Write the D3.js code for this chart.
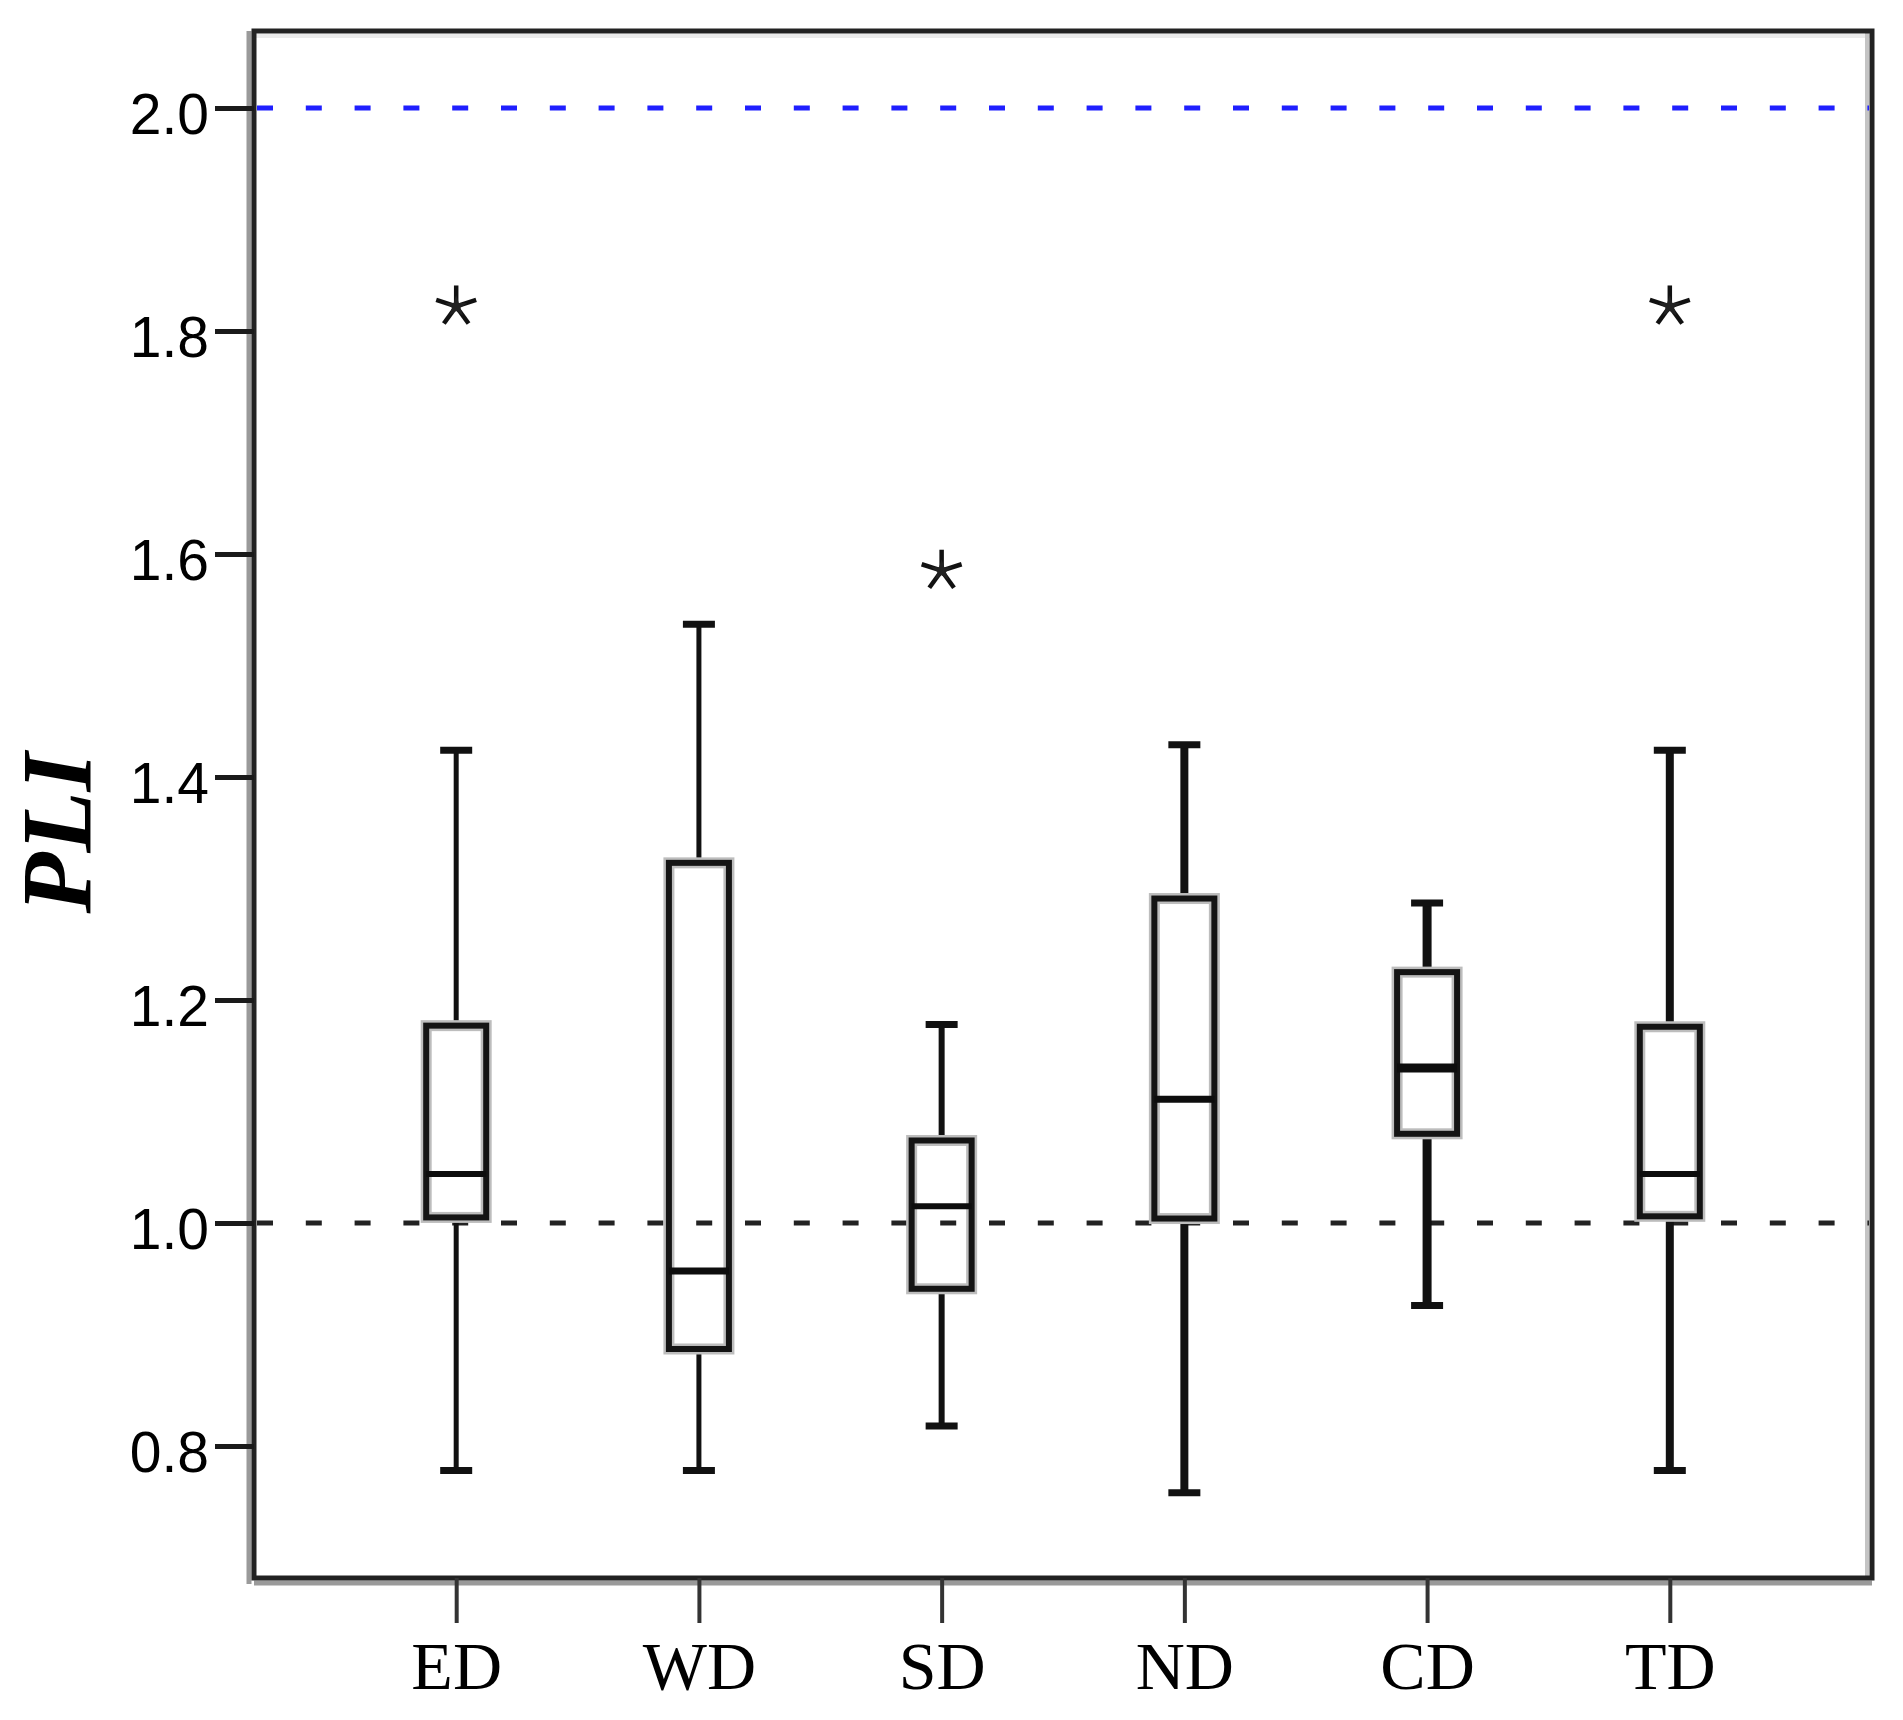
<!DOCTYPE html>
<html>
<head>
<meta charset="utf-8">
<script src="https://cdn.jsdelivr.net/npm/d3@7"></script>
<style>
  body { margin: 0; background: #fff; }
</style>
</head>
<body>
<div id="vis"></div>
<script>
// data
const groups = ["ED", "WD", "SD", "ND", "CD", "TD"];
const whiskerLow  = [0.778, 0.778, 0.818, 0.758, 0.926, 0.778];
const q1          = [1.005, 0.887, 0.941, 1.004, 1.080, 1.006];
const medians     = [1.044, 0.957, 1.015, 1.111, 1.139, 1.044];
const q3          = [1.177, 1.323, 1.074, 1.291, 1.225, 1.176];
const whiskerHigh = [1.424, 1.537, 1.178, 1.429, 1.287, 1.424];

const outlierGroups = ["ED", "SD", "TD"];
const outlierValues = [1.822, 1.585, 1.822];

const yTicks = [0.8, 1.0, 1.2, 1.4, 1.6, 1.8, 2.0];
const refValues = [1.0, 2.0];
const refColors = ["#222", "#1f1fff"];

const width = 1903;
const height = 1720;
const pLeft = 254, pRight = 1872, pTop = 31, pBottom = 1578;

// line weights differ a bit per box in the original
const whiskerW = {ED: 5, WD: 5, SD: 6, ND: 8, CD: 9, TD: 8};
const medianW = {ED: 6, WD: 7, SD: 6, ND: 7, CD: 9, TD: 6};

const svg = d3.select("#vis").append("svg")
  .attr("width", width).attr("height", height)

const x = d3.scalePoint().domain(groups).range([pLeft, pRight]).padding(0.833);
// 2.0 sits at y=108, 0.8 at y=1446
const y = d3.scaleLinear().domain([0.8, 2.0]).range([1446, 108]);

const rows = groups.map((g, i) => ({
  g: g, lo: whiskerLow[i], q1: q1[i], med: medians[i], q3: q3[i], hi: whiskerHigh[i]
}));

// frame with soft grey edges
const frame = svg.append("g")
frame.append("line").attr("x1", pLeft - 5).attr("x2", pLeft - 5).attr("y1", pTop).attr("y2", pBottom + 6)
  .attr("stroke", "#9a9a9a").attr("stroke-width", 5)
frame.append("line").attr("x1", pLeft).attr("x2", pRight).attr("y1", pBottom + 5).attr("y2", pBottom + 5)
  .attr("stroke", "#9a9a9a").attr("stroke-width", 5)
frame.append("line").attr("x1", pLeft).attr("x2", pRight).attr("y1", pTop + 5).attr("y2", pTop + 5)
  .attr("stroke", "#ebebeb").attr("stroke-width", 4)
frame.append("line").attr("x1", pRight - 5).attr("x2", pRight - 5).attr("y1", pTop).attr("y2", pBottom)
  .attr("stroke", "#c4c4c4").attr("stroke-width", 4)
frame.append("rect")
  .attr("x", pLeft).attr("y", pTop).attr("width", pRight - pLeft).attr("height", pBottom - pTop)
  .attr("fill", "none").attr("stroke", "#222").attr("stroke-width", 5)

// reference lines
svg.append("g").selectAll("line").data(refValues).join("line")
  .attr("x1", pLeft + 3).attr("x2", pRight - 3)
  .attr("y1", d => y(d)).attr("y2", d => y(d))
  .attr("stroke", (d, i) => refColors[i])
  .attr("stroke-width", 5)
  .attr("stroke-dasharray", "16 32.8")

// y axis
const yAxis = svg.append("g")
  .attr("transform", `translate(${pLeft},0)`)
  .call(d3.axisLeft(y).tickValues(yTicks).tickSize(39).tickPadding(6).tickFormat(d3.format(".1f")))
yAxis.select(".domain").remove()
yAxis.selectAll(".tick line").attr("stroke", "#1a1a1a").attr("stroke-width", 5)
yAxis.selectAll(".tick text")
  .attr("dy", "0.45em")
  .style("font-family", "'Liberation Sans', Arial, sans-serif")
  .style("font-size", "57px")
  .attr("fill", "#000")

// x axis
const xAxis = svg.append("g")
  .attr("transform", `translate(0,${pBottom})`)
  .call(d3.axisBottom(x).tickSize(45))
xAxis.select(".domain").remove()
xAxis.selectAll(".tick line").attr("stroke", "#333").attr("stroke-width", 4)
xAxis.selectAll(".tick text")
  .attr("y", 111).attr("dy", 0)
  .style("font-family", "'Liberation Serif', 'Times New Roman', serif")
  .style("font-size", "68px")
  .attr("fill", "#000")

// boxes
const boxW = 60, capW = 32;
const box = svg.append("g").selectAll("g").data(rows).join("g")

box.append("line")
  .attr("x1", d => x(d.g)).attr("x2", d => x(d.g))
  .attr("y1", d => y(d.q3)).attr("y2", d => y(d.hi))
  .attr("stroke", "#111").attr("stroke-width", d => whiskerW[d.g])
box.append("line")
  .attr("x1", d => x(d.g)).attr("x2", d => x(d.g))
  .attr("y1", d => y(d.q1)).attr("y2", d => y(d.lo))
  .attr("stroke", "#111").attr("stroke-width", d => whiskerW[d.g])

// caps
box.selectAll(".cap").data(d => [[d.g, d.hi], [d.g, d.lo]]).join("line")
  .attr("class", "cap")
  .attr("x1", d => x(d[0]) - capW / 2).attr("x2", d => x(d[0]) + capW / 2)
  .attr("y1", d => y(d[1])).attr("y2", d => y(d[1]))
  .attr("stroke", "#111").attr("stroke-width", 7)

// grey halo then the dark box edge
box.append("rect")
  .attr("x", d => x(d.g) - boxW / 2).attr("width", boxW)
  .attr("y", d => y(d.q3)).attr("height", d => y(d.q1) - y(d.q3))
  .attr("fill", "none").attr("stroke", "#bdbdbd").attr("stroke-width", 11)
box.append("rect")
  .attr("x", d => x(d.g) - boxW / 2).attr("width", boxW)
  .attr("y", d => y(d.q3)).attr("height", d => y(d.q1) - y(d.q3))
  .attr("fill", "none").attr("stroke", "#141414").attr("stroke-width", 6)

box.append("line")
  .attr("x1", d => x(d.g) - boxW / 2).attr("x2", d => x(d.g) + boxW / 2)
  .attr("y1", d => y(d.med)).attr("y2", d => y(d.med))
  .attr("stroke", "#0d0d0d").attr("stroke-width", d => medianW[d.g])

// outliers drawn as five-armed stars with a small solid core
const armAngles = [-90, -18, 54, 126, 198].map(a => a * Math.PI / 180);
const R = 21;
const stars = svg.append("g").selectAll("g").data(outlierGroups).join("g")
  .attr("transform", (d, i) => `translate(${x(d)},${y(outlierValues[i])})`)
stars.selectAll("line").data(armAngles).join("line")
  .attr("x1", 0).attr("y1", 0)
  .attr("x2", a => R * Math.cos(a)).attr("y2", a => R * Math.sin(a))
  .attr("stroke", "#111").attr("stroke-width", 4.5).attr("stroke-linecap", "butt")
stars.append("path")
  .attr("d", d3.symbol(d3.symbolStar, 150))
  .attr("fill", "#222")

// y label
svg.append("text")
  .attr("transform", "translate(90,833) rotate(-90)")
  .attr("text-anchor", "middle")
  .style("font-family", "'Liberation Serif', 'Times New Roman', serif")
  .style("font-weight", "bold")
  .style("font-style", "italic")
  .style("font-size", "100px")
  .text("PLI")
</script>
</body>
</html>
